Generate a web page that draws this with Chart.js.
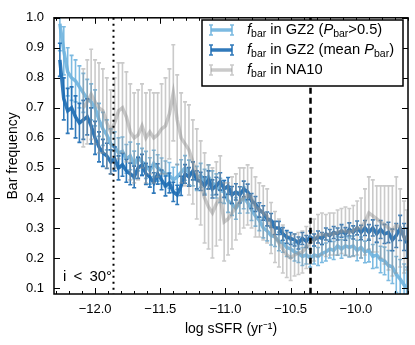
<!DOCTYPE html>
<html>
<head>
<meta charset="utf-8">
<script src="https://cdn.jsdelivr.net/npm/chart.js@4/dist/chart.umd.min.js"></script>
<style>
  html, body { margin: 0; padding: 0; background: #fff; }
  #wrap { width: 415px; height: 345px; }
</style>
</head>
<body>
<div id="wrap"><canvas id="c"></canvas></div>
<script>
// log sSFR bins (shared by all three series)
const xs = [-12.27,-12.24,-12.21,-12.18,-12.15,-12.12,-12.09,-12.06,-12.03,-12.00,
  -11.97,-11.94,-11.91,-11.88,-11.85,-11.82,-11.79,-11.76,-11.73,-11.70,
  -11.67,-11.64,-11.61,-11.58,-11.55,-11.52,-11.49,-11.46,-11.43,-11.40,
  -11.37,-11.34,-11.31,-11.28,-11.25,-11.22,-11.19,-11.16,-11.13,-11.10,
  -11.07,-11.04,-11.01,-10.98,-10.95,-10.92,-10.89,-10.86,-10.83,-10.80,
  -10.77,-10.74,-10.71,-10.68,-10.65,-10.62,-10.59,-10.56,-10.53,-10.50,
  -10.47,-10.44,-10.41,-10.38,-10.35,-10.32,-10.29,-10.26,-10.23,-10.20,
  -10.17,-10.14,-10.11,-10.08,-10.05,-10.02,-9.99,-9.96,-9.93,-9.90,
  -9.87,-9.84,-9.81,-9.78,-9.75,-9.72,-9.69,-9.66,-9.63,-9.61];

// f_bar in GZ2 (P_bar > 0.5)
const fLight = [0.98,0.89,0.82,0.80,0.79,0.77,0.75,0.73,0.72,0.70,
  0.66,0.63,0.61,0.58,0.57,0.55,0.555,0.53,0.54,0.51,
  0.535,0.52,0.51,0.49,0.515,0.50,0.49,0.48,0.475,0.46,
  0.47,0.485,0.50,0.485,0.48,0.465,0.475,0.455,0.47,0.45,
  0.44,0.425,0.42,0.39,0.38,0.365,0.385,0.40,0.385,0.36,
  0.34,0.325,0.30,0.29,0.275,0.27,0.255,0.25,0.235,0.23,
  0.22,0.215,0.205,0.21,0.20,0.21,0.205,0.215,0.22,0.23,
  0.225,0.24,0.23,0.24,0.235,0.24,0.225,0.235,0.22,0.225,
  0.205,0.21,0.195,0.19,0.175,0.17,0.145,0.13,0.11,0.10];
const eLight = [0.09,0.08,0.08,0.075,0.07,0.07,0.065,0.065,0.06,0.06,
  0.055,0.055,0.05,0.05,0.05,0.05,0.048,0.048,0.046,0.046,
  0.045,0.045,0.045,0.044,0.044,0.044,0.043,0.043,0.043,0.042,
  0.042,0.042,0.041,0.041,0.04,0.04,0.04,0.04,0.04,0.04,
  0.04,0.04,0.038,0.038,0.038,0.036,0.036,0.036,0.035,0.035,
  0.034,0.034,0.033,0.033,0.032,0.032,0.031,0.031,0.03,0.03,
  0.03,0.03,0.03,0.03,0.03,0.03,0.03,0.03,0.03,0.03,
  0.03,0.031,0.031,0.032,0.032,0.033,0.034,0.035,0.036,0.038,
  0.04,0.042,0.044,0.046,0.05,0.055,0.06,0.065,0.07,0.07];

// f_bar in GZ2 (mean P_bar)
const fDark = [0.86,0.73,0.69,0.70,0.67,0.65,0.66,0.67,0.64,0.60,
  0.57,0.55,0.54,0.52,0.53,0.50,0.51,0.49,0.48,0.47,
  0.50,0.51,0.48,0.47,0.45,0.48,0.46,0.44,0.45,0.42,
  0.41,0.44,0.48,0.47,0.49,0.46,0.455,0.44,0.46,0.43,
  0.44,0.455,0.43,0.44,0.41,0.42,0.41,0.43,0.42,0.39,
  0.38,0.36,0.35,0.33,0.325,0.30,0.30,0.28,0.27,0.265,
  0.26,0.25,0.265,0.255,0.27,0.26,0.27,0.265,0.28,0.275,
  0.285,0.28,0.29,0.28,0.295,0.285,0.30,0.285,0.30,0.285,
  0.30,0.28,0.295,0.28,0.285,0.26,0.275,0.30,0.27,0.25];
const eDark = [0.055,0.07,0.075,0.07,0.07,0.065,0.065,0.06,0.06,0.055,
  0.05,0.045,0.042,0.04,0.04,0.04,0.038,0.038,0.036,0.036,
  0.035,0.035,0.035,0.034,0.034,0.034,0.033,0.033,0.033,0.032,
  0.032,0.032,0.031,0.031,0.03,0.03,0.03,0.03,0.03,0.03,
  0.029,0.029,0.028,0.028,0.028,0.027,0.027,0.026,0.026,0.025,
  0.025,0.024,0.024,0.023,0.023,0.022,0.022,0.021,0.021,0.02,
  0.02,0.02,0.02,0.02,0.02,0.02,0.02,0.02,0.02,0.02,
  0.02,0.02,0.021,0.021,0.022,0.022,0.023,0.024,0.025,0.026,
  0.027,0.028,0.03,0.032,0.034,0.036,0.04,0.042,0.045,0.05];

// f_bar in NA10
const fGrey = [null,null,null,null,null,null,0.70,0.72,0.745,0.72,
  0.70,0.69,0.65,0.62,0.65,0.69,0.70,0.67,0.62,0.60,
  0.61,0.64,0.60,0.62,0.60,0.61,0.63,0.64,0.68,0.75,
  0.66,0.60,0.58,0.56,0.52,0.48,0.45,0.40,0.37,0.35,
  0.38,0.40,0.32,0.33,0.35,0.37,0.39,0.40,0.41,0.40,
  0.37,0.36,0.35,0.34,0.30,0.27,0.25,0.23,0.21,0.20,
  0.21,0.215,0.22,0.235,0.25,0.26,0.275,0.28,0.275,0.28,
  0.28,0.285,0.29,0.29,0.285,0.29,0.30,0.30,0.32,0.35,
  0.34,0.33,0.32,0.31,0.30,0.29,0.31,0.30,0.27,0.26];
const eGrey = [null,null,null,null,null,null,0.13,0.14,0.15,0.14,
  0.15,0.14,0.15,0.14,0.15,0.16,0.15,0.15,0.16,0.15,
  0.15,0.14,0.15,0.14,0.15,0.14,0.15,0.16,0.15,0.16,
  0.15,0.15,0.14,0.15,0.14,0.15,0.14,0.15,0.14,0.15,
  0.14,0.14,0.13,0.12,0.12,0.11,0.11,0.1,0.1,0.1,
  0.1,0.09,0.09,0.09,0.085,0.085,0.08,0.08,0.075,0.075,
  0.07,0.07,0.07,0.07,0.07,0.07,0.07,0.07,0.07,0.07,
  0.07,0.075,0.075,0.08,0.08,0.085,0.09,0.1,0.11,0.12,
  0.12,0.11,0.12,0.13,0.14,0.15,0.16,0.13,0.12,0.1];

const xTicks = [-12.0, -11.5, -11.0, -10.5, -10.0];
const yTicks = [0.1, 0.2, 0.3, 0.4, 0.5, 0.6, 0.7, 0.8, 0.9, 1.0];
const vLines = [-11.86, -10.35]; // dotted, dashed

const cLight = 'rgba(110,178,222,0.9)';
const cDark = 'rgba(30,110,180,0.92)';
const cGrey = 'rgba(150,150,150,0.5)';
const FONT = "'Liberation Sans', Arial, sans-serif";

const errs = [eLight, eDark, eGrey];

function pts(ys) {
  return xs.map((x, i) => ({ x: x, y: ys[i] }));
}

// draw vertical error bars for each dataset right after its line
const errorBars = {
  id: 'errorBars',
  afterDatasetDraw(chart, args) {
    const ctx = chart.ctx;
    const ds = chart.data.datasets[args.index];
    const e = errs[args.index];
    const xS = chart.scales.x, yS = chart.scales.y;
    const a = chart.chartArea;
    ctx.save();
    ctx.beginPath();
    ctx.rect(a.left, a.top, a.right - a.left, a.bottom - a.top);
    ctx.clip();
    ctx.strokeStyle = ds.borderColor;
    ctx.lineWidth = 1.6;
    ds.data.forEach((p, i) => {
      if (p.y == null || e[i] == null) return;
      const px = xS.getPixelForValue(p.x);
      const y0 = yS.getPixelForValue(p.y - e[i]);
      const y1 = yS.getPixelForValue(p.y + e[i]);
      ctx.beginPath();
      ctx.moveTo(px, y0); ctx.lineTo(px, y1);
      ctx.moveTo(px - 2, y0); ctx.lineTo(px + 2, y0);
      ctx.moveTo(px - 2, y1); ctx.lineTo(px + 2, y1);
      ctx.stroke();
    });
    ctx.restore();
  }
};

// frame, inward ticks, reference lines, legend and annotation
const decor = {
  id: 'decor',
  afterDraw(chart) {
    const ctx = chart.ctx;
    const xS = chart.scales.x, yS = chart.scales.y;
    const a = chart.chartArea;
    ctx.save();

    // vertical reference lines
    ctx.strokeStyle = '#000';
    ctx.lineWidth = 2;
    ctx.setLineDash([2, 4]);
    let px = Math.round(xS.getPixelForValue(vLines[0])) + 0.5;
    ctx.beginPath(); ctx.moveTo(px, a.top); ctx.lineTo(px, a.bottom); ctx.stroke();
    ctx.lineWidth = 2.5;
    ctx.setLineDash([6, 4]);
    px = Math.round(xS.getPixelForValue(vLines[1])) + 0.5;
    ctx.beginPath(); ctx.moveTo(px, a.top); ctx.lineTo(px, a.bottom); ctx.stroke();
    ctx.setLineDash([]);

    // frame
    ctx.lineWidth = 1.5;
    ctx.strokeRect(a.left, a.top, a.right - a.left, a.bottom - a.top);

    // ticks pointing inward on all sides
    ctx.lineWidth = 1;
    ctx.beginPath();
    for (let v = -12.3; v <= -9.6; v += 0.1) {
      const t = Math.round(xS.getPixelForValue(v)) + 0.5;
      const major = xTicks.some(m => Math.abs(m - v) < 1e-6);
      const len = major ? 6 : 3;
      ctx.moveTo(t, a.bottom); ctx.lineTo(t, a.bottom - len);
      ctx.moveTo(t, a.top); ctx.lineTo(t, a.top + len);
    }
    yTicks.forEach(v => {
      const t = Math.round(yS.getPixelForValue(v)) + 0.5;
      ctx.moveTo(a.left, t); ctx.lineTo(a.left + 6, t);
      ctx.moveTo(a.right, t); ctx.lineTo(a.right - 6, t);
    });
    ctx.stroke();

    // annotation
    ctx.fillStyle = '#000';
    ctx.font = '15px ' + FONT;
    ctx.textBaseline = 'middle';
    ctx.textAlign = 'left';
    ctx.fillText('i \u2009<\u2009 30\u00B0', 63, 277);

    // legend
    const lx = 202, ly = 20, lw = 201, lh = 66;
    ctx.fillStyle = '#fff';
    ctx.fillRect(lx, ly, lw, lh);
    ctx.strokeStyle = '#000';
    ctx.lineWidth = 1.5;
    ctx.strokeRect(lx, ly, lw, lh);
    const rows = [
      { c: cLight, parts: [['f', 'i'], ['bar', 's'], [' in GZ2 (', 'n'], ['P', 'i'], ['bar', 's'], ['>0.5)', 'n']] },
      { c: cDark, parts: [['f', 'i'], ['bar', 's'], [' in GZ2 (mean ', 'n'], ['P', 'i'], ['bar', 's'], [')', 'n']] },
      { c: cGrey, parts: [['f', 'i'], ['bar', 's'], [' in NA10', 'n']] }
    ];
    rows.forEach((r, k) => {
      const y = ly + 10 + k * 20;
      ctx.strokeStyle = r.c;
      ctx.lineWidth = 3.5;
      ctx.beginPath(); ctx.moveTo(211, y); ctx.lineTo(232, y); ctx.stroke();
      ctx.lineWidth = 1.6;
      ctx.beginPath();
      [211, 232].forEach(ex => {
        ctx.moveTo(ex, y - 5); ctx.lineTo(ex, y + 5);
        ctx.moveTo(ex - 2, y - 5); ctx.lineTo(ex + 2, y - 5);
        ctx.moveTo(ex - 2, y + 5); ctx.lineTo(ex + 2, y + 5);
      });
      ctx.stroke();
      ctx.fillStyle = '#000';
      let tx = 247;
      r.parts.forEach(([t, s]) => {
        if (s === 's') {
          ctx.font = '10.5px ' + FONT;
          ctx.fillText(t, tx, y + 4);
        } else {
          ctx.font = (s === 'i' ? 'italic ' : '') + '14.7px ' + FONT;
          ctx.fillText(t, tx, y);
        }
        tx += ctx.measureText(t).width;
      });
    });
    ctx.restore();
  }
};

function lineSet(label, ys, color, order) {
  return {
    label: label,
    data: pts(ys),
    borderColor: color,
    backgroundColor: color,
    borderWidth: 3.5,
    pointRadius: 0,
    tension: 0,
    spanGaps: false,
    order: order
  };
}

new Chart(document.getElementById('c'), {
  type: 'line',
  data: {
    datasets: [
      lineSet('f_bar in GZ2 (P_bar>0.5)', fLight, cLight, 3),
      lineSet('f_bar in GZ2 (mean P_bar)', fDark, cDark, 2),
      lineSet('f_bar in NA10', fGrey, cGrey, 1)
    ]
  },
  options: {
    responsive: true,
    maintainAspectRatio: false,
    animation: false,
    events: [],
    layout: { padding: { top: 12, right: 7, left: 0, bottom: 0 } },
    plugins: { legend: { display: false }, tooltip: { enabled: false } },
    scales: {
      x: {
        type: 'linear',
        min: -12.315,
        max: -9.6,
        afterBuildTicks: s => { s.ticks = xTicks.map(v => ({ value: v })); },
        afterFit: s => { s.height = 51; },
        grid: { display: false, drawTicks: false },
        border: { display: false },
        ticks: {
          padding: 8,
          color: '#000',
          font: { family: FONT, size: 13 },
          callback: v => v.toFixed(1).replace('-', '\u2212')
        },
        title: {
          display: true,
          text: 'log sSFR (yr\u207B\u00B9)',
          color: '#000',
          font: { family: FONT, size: 14 },
          padding: { top: 0, bottom: 7 }
        }
      },
      y: {
        min: 0.08,
        max: 1.0,
        afterBuildTicks: s => { s.ticks = yTicks.map(v => ({ value: v })); },
        afterFit: s => { s.width = 54; },
        grid: { display: false, drawTicks: false },
        border: { display: false },
        ticks: {
          padding: 10,
          color: '#000',
          font: { family: FONT, size: 13 },
          callback: v => v.toFixed(1)
        },
        title: {
          display: true,
          text: 'Bar frequency',
          color: '#000',
          font: { family: FONT, size: 14 },
          padding: { top: 5, bottom: 0 }
        }
      }
    }
  },
  plugins: [errorBars, decor]
});
</script>
</body>
</html>
